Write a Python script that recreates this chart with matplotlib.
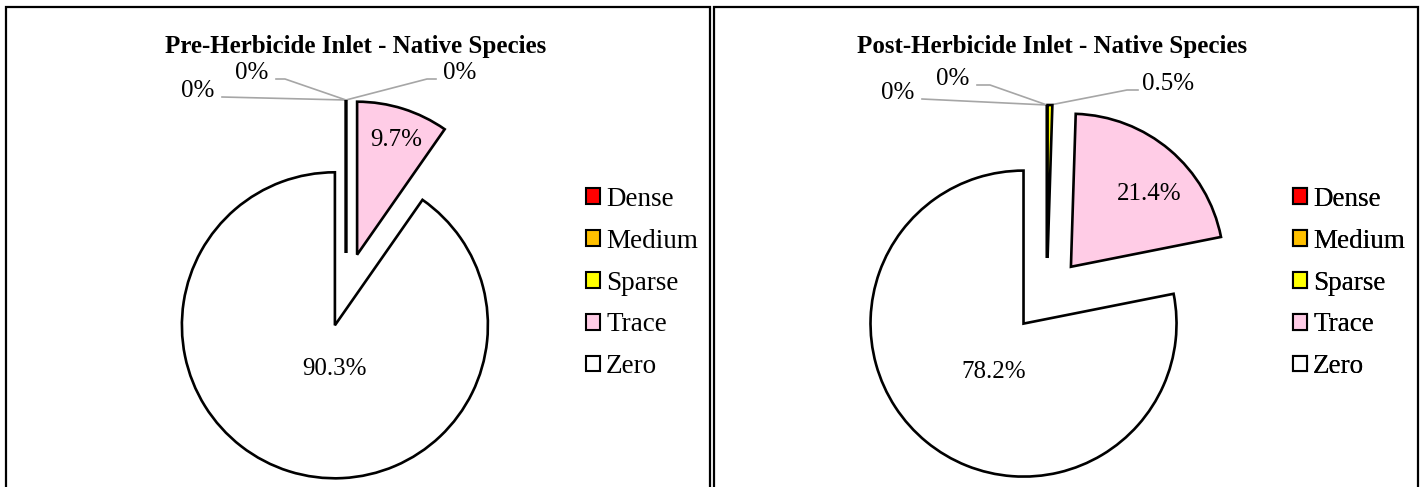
import numpy as np
import matplotlib.pyplot as plt
from matplotlib.patches import Rectangle

plt.rcParams["font.family"] = ["Liberation Serif", "DejaVu Serif"]

categories = ["Dense", "Medium", "Sparse", "Trace", "Zero"]
pre_values = [0, 0, 0, 9.7, 90.3]
post_values = [0, 0, 0.5, 21.4, 78.2]
colors = ["#FF0000", "#FFC000", "#FFFF00", "#FFCCE6", "#FFFFFF"]
titles = ["Pre-Herbicide Inlet - Native Species",
          "Post-Herbicide Inlet - Native Species"]

W, H = 1424, 487
fig = plt.figure(figsize=(W / 100, H / 100), dpi=100)
ax = fig.add_axes([0, 0, 1, 1])

# layout in pixels (y measured from the top)
panels = [(6, 710), (714, 1418)]
centers = [(346, 290), (1047, 295)]
radius = 153
shift = 37
title_x = [356, 1052]
legend_x = [586, 1293]
# offsets of the big labels from each wedge vertex
big_offsets = [{3: (39, -115), 4: (0, 44)}, {3: (78, -73), 4: (-30, 48)}]
# small labels: text position and optional elbow point
small_labels = [
    {0: ((198, 91), None), 1: ((252, 73), (285, 79)), 2: ((460, 73), (427, 79))},
    {0: ((898, 93), None), 1: ((953, 79), (990, 85)), 2: ((1168, 84), (1127, 90))},
]


def px(x, y):
    return x, H - y


def fmt(v):
    return f"{v:g}%"


for i, values in enumerate([pre_values, post_values]):
    cx, cy = px(*centers[i])
    wedges, _ = ax.pie(values, colors=colors, startangle=90, counterclock=False,
                       explode=[shift] * len(values), radius=radius, center=(cx, cy),
                       wedgeprops=dict(edgecolor="black", linewidth=1.9))
    for k, w in enumerate(wedges):
        wx, wy = w.center
        if k in big_offsets[i]:
            ox, oy = big_offsets[i][k]
            ax.text(wx + ox, wy - oy, fmt(values[k]), ha="center", va="center",
                    fontsize=18)
        else:
            ang = np.deg2rad(w.theta1 if w.theta1 == w.theta2 else (w.theta1 + w.theta2) / 2)
            tip = (wx + radius * np.cos(ang), wy + radius * np.sin(ang))
            (tx, ty), elbow = small_labels[i][k]
            tx, ty = px(tx, ty)
            side = -1 if tx < tip[0] else 1
            end = (tx - side * 24 if values[k] == 0 else tx - side * 30, ty - 6)
            pts = [tip]
            if elbow is not None:
                pts.append(px(*elbow))
                end = (end[0], pts[-1][1])
            pts.append(end)
            xs, ys = zip(*pts)
            ax.plot(xs, ys, color="#A6A6A6", linewidth=1.2, zorder=0)
            ax.text(tx, ty, fmt(values[k]), ha="center", va="center", fontsize=18)

    tx, ty = px(title_x[i], 46)
    ax.text(tx, ty, titles[i], ha="center", va="center", fontsize=18,
            fontweight="bold")

    lx, ly = px(legend_x[i], 283)
    leg = ax.legend(wedges, categories, loc="center left", bbox_to_anchor=(lx, ly),
                    bbox_transform=ax.transData, frameon=False, fontsize=19.5,
                    handlelength=0.52, handleheight=0.52, handletextpad=0.22,
                    labelspacing=0.62, borderpad=0, borderaxespad=0)
    for h in leg.legend_handles:
        h.set_linewidth(1.5)
    ax.add_artist(leg)

    x0, x1 = panels[i]
    ax.add_patch(Rectangle(px(x0, H + 5), x1 - x0, H - 2, fill=False,
                           edgecolor="black", linewidth=1.6, zorder=5))

ax.set_xlim(0, W)
ax.set_ylim(0, H)
ax.set_aspect("auto")
ax.axis("off")

fig.savefig("out.png", dpi=100)
